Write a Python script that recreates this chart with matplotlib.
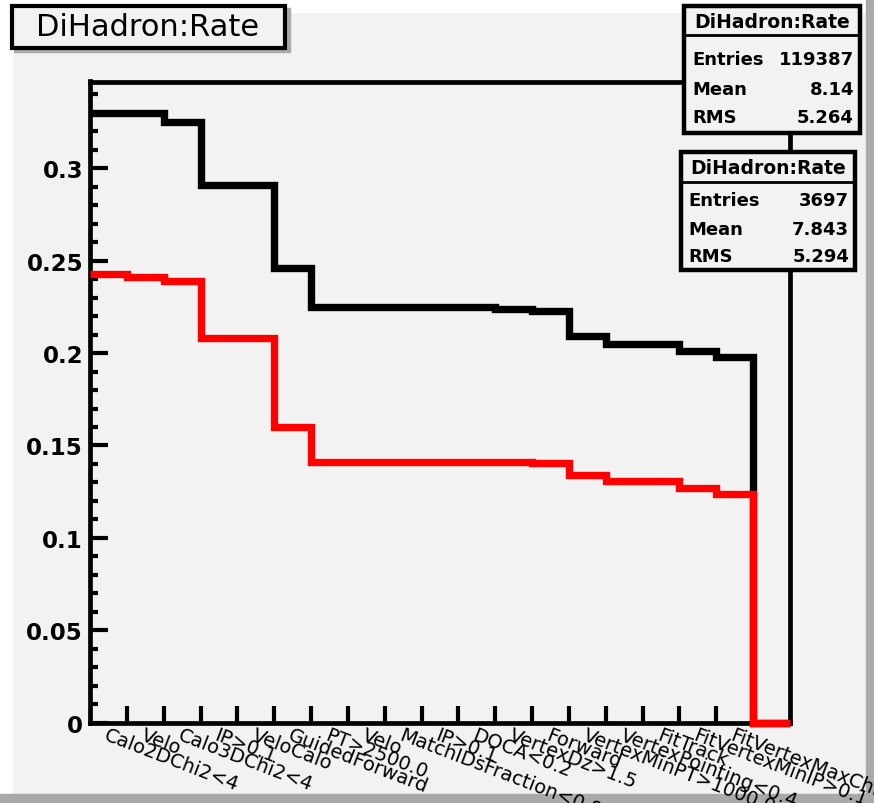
import matplotlib.pyplot as plt
from matplotlib.patches import Rectangle
import numpy as np

plt.rcParams['font.family'] = ['DejaVu Sans']

W, H = 874, 804

cuts = ["Calo2DChi2<4", "Velo", "Calo3DChi2<4", "IP>0.1", "VeloCalo",
        "GuidedForward", "PT>2500.0", "Velo", "MatchIDsFraction<0.9", "IP>0.1",
        "DOCA<0.2", "VertexDz>1.5", "Forward", "VertexMinPT>1000.0",
        "VertexPointing<0.4", "FitTrack", "FitVertexMinIP>0.1",
        "FitVertexMaxChi2<10", ""]

rate_all = [0.330, 0.330, 0.325, 0.291, 0.291, 0.246, 0.225, 0.225, 0.225, 0.225,
            0.225, 0.224, 0.223, 0.209, 0.205, 0.205, 0.201, 0.198, 0.0]
rate_sel = [0.243, 0.241, 0.239, 0.208, 0.208, 0.160, 0.141, 0.141, 0.141, 0.141,
            0.141, 0.141, 0.1405, 0.134, 0.131, 0.131, 0.127, 0.124, 0.0]

stats_all = [("Entries", "119387"), ("Mean", "8.14"), ("RMS", "5.264")]
stats_sel = [("Entries", "3697"), ("Mean", "7.843"), ("RMS", "5.294")]

fig = plt.figure(figsize=(8.74, 8.04), dpi=100)

# canvas background with ROOT-like bevel
bg = fig.add_axes([0, 0, 1, 1], zorder=0)
bg.set_xlim(0, W)
bg.set_ylim(H, 0)
bg.axis('off')
bg.add_patch(Rectangle((0, 0), W, H, color='#f2f2f2'))
bg.add_patch(Rectangle((0, 0), W, 12.5, color='white'))
bg.add_patch(Rectangle((0, 0), 12, H, color='white'))
bg.add_patch(Rectangle((866, 0), 8, H, color='#a9a9a9'))
bg.add_patch(Rectangle((0, 795), W, 9, color='#a9a9a9'))

# main frame
x0, x1, ytop, ybot = 90, 790, 82.5, 723.7
ax = fig.add_axes([x0 / W, (H - ybot) / H, (x1 - x0) / W, (ybot - ytop) / H], zorder=1)
ax.set_facecolor('none')
n = len(cuts)
edges = np.arange(n + 1)
ax.set_xlim(0, n)
ax.set_ylim(0, (ybot - ytop) / 1848)

ax.stairs(rate_all, edges, baseline=None, color='black', lw=5.3, zorder=3, clip_on=False)
ax.stairs(rate_sel, edges, baseline=None, color='red', lw=5.3, zorder=4, clip_on=False)

for s in ax.spines.values():
    s.set_linewidth(3.4)
    s.set_zorder(2.6)

ax.set_yticks(np.arange(0, 0.31, 0.05))
ax.set_yticklabels(["0", "0.05", "0.1", "0.15", "0.2", "0.25", "0.3"])
ax.set_yticks(np.arange(0, 0.345, 0.01), minor=True)
ax.tick_params(axis='y', which='major', direction='in', length=13, width=3,
               labelsize=16.5, pad=5)
ax.tick_params(axis='y', which='minor', direction='in', length=6, width=3)
for t in ax.get_yticklabels():
    t.set_fontweight('bold')

ax.set_xticks(edges[1:-1])
ax.set_xticklabels([])
ax.set_xticks(edges[:-1] + 0.5, minor=True)
ax.set_xticklabels(cuts, minor=True, rotation=-21, ha='left', va='top',
                   rotation_mode='anchor', fontsize=14)
ax.tick_params(axis='x', which='major', direction='in', length=12, width=3)
ax.tick_params(axis='x', which='minor', length=0, pad=2)

# title and stat boxes
ov = fig.add_axes([0, 0, 1, 1], zorder=3)
ov.set_xlim(0, W)
ov.set_ylim(H, 0)
ov.axis('off')
ov.set_facecolor('none')

ov.add_patch(Rectangle((14, 9), 276, 44, color='#a9a9a9'))
ov.add_patch(Rectangle((11.5, 6.5), 273.5, 42, facecolor='#f2f2f2', edgecolor='black', lw=3))
ov.text(148, 28, "DiHadron:Rate", fontsize=22, ha='center', va='center')


def stat_box(left, top, right, bottom, sep, rows, row_y, tx_l, tx_r):
    ov.add_patch(Rectangle((left, top), right - left, bottom - top,
                           facecolor='#f2f2f2', edgecolor='black', lw=3.2))
    ov.plot([left, right], [sep, sep], color='black', lw=2)
    ov.text((left + right) / 2, (top + sep) / 2 + 1, "DiHadron:Rate", fontsize=13.5,
            fontweight='bold', ha='center', va='center')
    for (k, v), yy in zip(rows, row_y):
        ov.text(tx_l, yy, k, fontsize=13, fontweight='bold', ha='left', va='center')
        ov.text(tx_r, yy, v, fontsize=13, fontweight='bold', ha='right', va='center')


stat_box(684, 7, 860, 134, 35.5, stats_all, [60, 90, 118], 692, 854)
stat_box(681, 153, 855, 271, 183, stats_sel, [201, 230, 257], 688, 849)

fig.savefig("out.png", dpi=100)
